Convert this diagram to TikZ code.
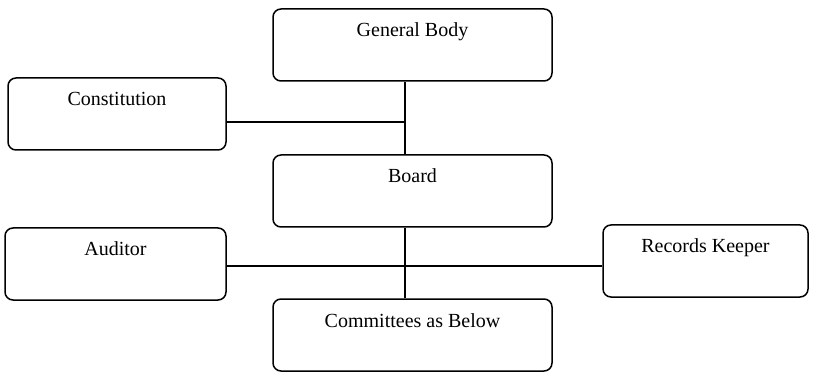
\documentclass[tikz,border=0pt]{standalone}
\usepackage{fontspec}
\setmainfont{Liberation Serif}
\usetikzlibrary{positioning,calc}

\begin{document}
\begin{tikzpicture}[x=0.5pt, y=-0.5pt,
    orgbox/.style={rectangle, rounded corners=4pt, draw=black, line width=0.75pt,
      inner sep=0pt, text height=14pt, text depth=22pt, font=\fontsize{10}{12}\selectfont},
    link/.style={draw=black, line width=0.75pt}]

  \useasboundingbox (0,0) rectangle (817,373);

  % Define nodes
  \node[orgbox, minimum width=139.5pt] (body) at (412.5,45) {General Body};
  \node[orgbox, minimum width=109pt]   (const) at (117,114) {Constitution};
  \node[orgbox, minimum width=139.5pt] (board) at (412.5,191) {Board};
  \node[orgbox, minimum width=110.5pt] (audit) at (115.5,264) {Auditor};
  \node[orgbox, minimum width=102.5pt] (records) at (705.5,261) {Records Keeper};
  \node[orgbox, minimum width=139.5pt] (comm) at (412.5,335) {Committees as Below};

  % junctions
  \coordinate (cjoin) at (405,122);
  \coordinate (ajoin) at (405,266);

  \draw[link] (body.south -| cjoin) -- (board.north -| cjoin);
  \draw[link] (cjoin -| const.east) -- (cjoin);
  \draw[link] (board.south -| ajoin) -- (comm.north -| ajoin);
  \draw[link] (ajoin -| audit.east) -- (ajoin -| records.west);

\end{tikzpicture}
\end{document}
